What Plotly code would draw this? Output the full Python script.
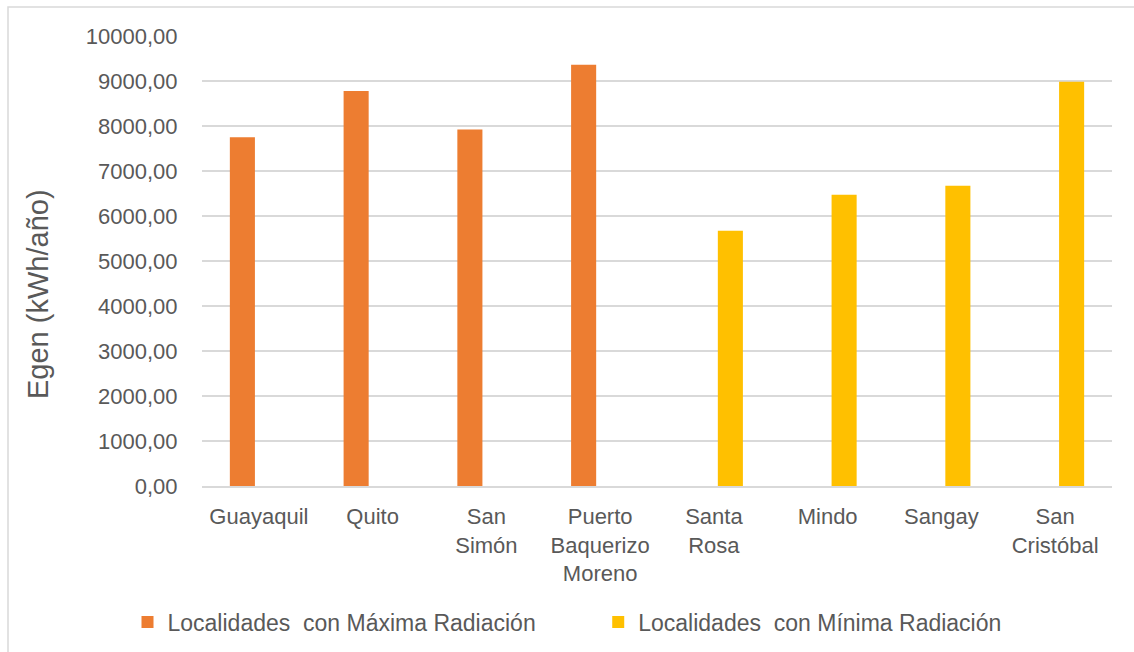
import plotly.graph_objects as go

categories = ["Guayaquil", "Quito", "San<br>Simón", "Puerto<br>Baquerizo<br>Moreno",
              "Santa<br>Rosa", "Mindo", "Sangay", "San<br>Cristóbal"]
max_rad = [7750, 8780, 7920, 9360, None, None, None, None]
min_rad = [None, None, None, None, 5670, 6470, 6670, 8985]
tick_vals = [0, 1000, 2000, 3000, 4000, 5000, 6000, 7000, 8000, 9000, 10000]
tick_text = ["0,00", "1000,00", "2000,00", "3000,00", "4000,00", "5000,00",
             "6000,00", "7000,00", "8000,00", "9000,00", "10000,00"]
series_names = ["Localidades\u00a0 con Máxima Radiación" + "\u00a0" * 9,
                "Localidades\u00a0 con Mínima Radiación"]
y_title = "Egen (kWh/año)"

TXT = "#595959"
FONT = "Liberation Sans, Arial, sans-serif"

fig = go.Figure()
fig.add_trace(go.Bar(x=categories, y=max_rad, name=series_names[0],
                     marker=dict(color="#ED7D31", line=dict(width=0))))
fig.add_trace(go.Bar(x=categories, y=min_rad, name=series_names[1],
                     marker=dict(color="#FFC000", line=dict(width=0))))

W, H = 1134, 652
L, R, T, B = 202, 22, 36, 166
pw, ph = W - L - R, H - T - B

fig.update_layout(
    width=W, height=H,
    margin=dict(l=L, r=R, t=T, b=B, autoexpand=False),
    paper_bgcolor="white", plot_bgcolor="white",
    barmode="group", bargap=0.42, bargroupgap=0.24,
    font=dict(family=FONT, color=TXT, size=22),
    showlegend=True,
    legend=dict(orientation="h", x=0.5, xref="container", xanchor="center",
                y=(H - 622) / H, yref="container", yanchor="middle",
                font=dict(size=23, color=TXT),
                bgcolor="rgba(0,0,0,0)"),
    xaxis=dict(type="category", showgrid=False, showline=True,
               linecolor="#D9D9D9", linewidth=1.5, ticks="outside",
               ticklen=10, tickcolor="rgba(0,0,0,0)",
               tickfont=dict(size=22, color=TXT), automargin=False),
    yaxis=dict(range=[0, 10000], tickvals=tick_vals, ticktext=tick_text,
               showgrid=True, gridcolor="#D9D9D9", gridwidth=1.5,
               zeroline=False, showline=False, ticks="outside", ticklen=19,
               tickcolor="rgba(0,0,0,0)", tickfont=dict(size=22, color=TXT),
               automargin=False),
    annotations=[dict(text=y_title, textangle=-90, xref="paper", yref="paper",
                      x=(38 - L) / pw, y=(H - B - 294) / ph,
                      xanchor="center", yanchor="middle", showarrow=False,
                      font=dict(size=29, color=TXT))],
    shapes=[dict(type="rect", xref="paper", yref="paper",
                 x0=(8 - L) / pw, x1=(W + 10 - L) / pw,
                 y0=(H - B - (H + 10)) / ph, y1=(H - B - 7) / ph,
                 line=dict(color="#D9D9D9", width=1.5), layer="below")],
)

fig.write_html("out.html", config={"displayModeBar": False},
               post_script="document.body.style.margin='0px';")
